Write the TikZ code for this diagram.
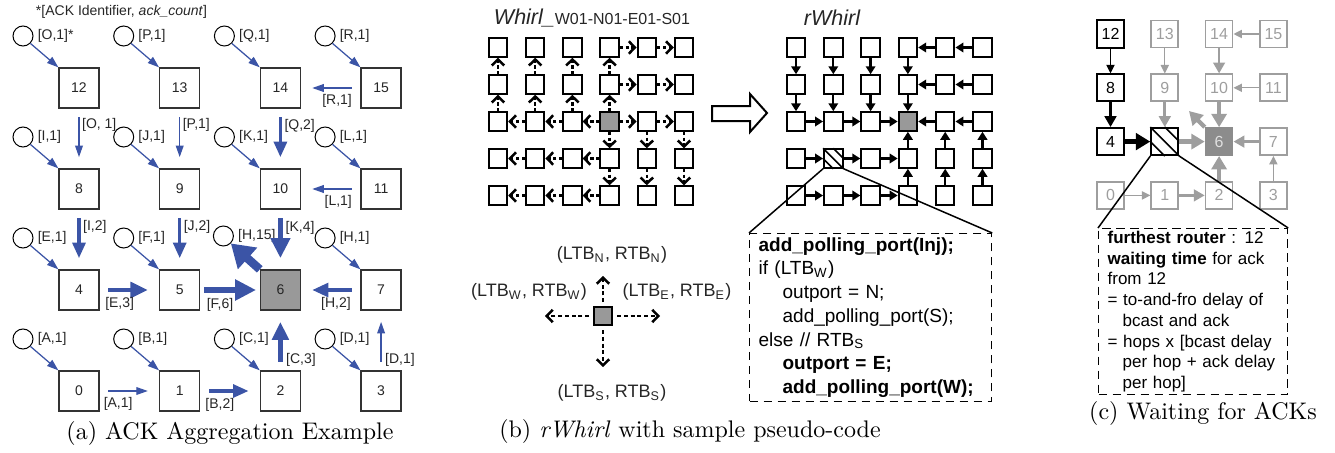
\documentclass[tikz,border=0pt]{standalone}
\usepackage{fontspec}
\setsansfont{Liberation Sans}
\usetikzlibrary{positioning,arrows.meta}

\definecolor{ackblue}{RGB}{59,84,166}
\definecolor{boxgray}{RGB}{153,153,153}
\definecolor{fadegray}{RGB}{158,158,158}
\definecolor{darkfill}{RGB}{140,140,140}

\tikzset{
  % ack aggregation mesh
  rtr/.style={draw=black!80, line width=0.5pt, minimum size=16pt, inner sep=0pt,
    font=\sffamily\fontsize{5.6}{6}\selectfont, text=black!85},
  src/.style={draw, circle, line width=0.4pt, minimum size=8pt, inner sep=0pt},
  lbl/.style={font=\sffamily\fontsize{5.6}{6.5}\selectfont, text=black!85, inner sep=1pt},
  ack/.style={draw=ackblue, line width=#1, -{Triangle[length=3.6pt 2 0, width=1.8pt 2.6 0]}},
  ack/.default=0.5pt,
  hop/.style={ack=#1, shorten <=3.5pt, shorten >=4.5pt},
  hop/.default=0.5pt,
  tagdown/.style={lbl, at start, anchor=north west, yshift=-2.5pt},
  tagup/.style={lbl, at start, anchor=west, xshift=0.4pt, yshift=4pt},
  tagleft/.style={lbl, at start, anchor=north east, xshift=-2.2pt, yshift=-1.4pt},
  tagright/.style={lbl, at start, anchor=north west, xshift=0.4pt, yshift=-1.2pt},
  % whirl / rwhirl trees
  cell/.style={draw, line width=0.8pt, minimum size=7.4pt, inner sep=0pt},
  wdash/.style={line width=0.9pt, dash pattern=on 1.3pt off 1pt,
    -{Straight Barb[length=2.4pt, width=5pt, line width=1pt]}},
  rsolid/.style={line width=0.9pt, -{Triangle[length=3.2pt, width=3.8pt]}},
  dirlbl/.style={font=\sffamily\fontsize{7.2}{8}\selectfont, text=black!85, inner sep=1pt},
  code/.style={draw, dash pattern=on 3.4pt off 2.2pt, line width=0.5pt, align=left,
    inner xsep=3.6pt, inner ysep=1.5pt, font=\sffamily\fontsize{7.6}{9.5}\selectfont},
  % waiting for acks
  cfade/.style={draw=fadegray, text=fadegray, line width=0.7pt, minimum size=10.8pt,
    inner sep=0pt, font=\sffamily\fontsize{6.4}{7}\selectfont},
  cdark/.style={cfade, draw=black, text=black, line width=0.8pt},
  cfill/.style={cfade, draw=darkfill, fill=darkfill, text=black!12},
  cack/.style={line width=#1, -{Triangle[length=2.6pt 1.6 0, width=2.2pt 2.2 0]}},
  note/.style={draw, dash pattern=on 3.4pt off 2.2pt, line width=0.5pt, align=left,
    inner xsep=3.6pt, inner ysep=1pt, font=\sffamily\fontsize{6.8}{8.3}\selectfont},
  subcap/.style={font=\fontsize{9.6}{11}\selectfont, inner sep=0pt}
}

\begin{document}
\begin{tikzpicture}[x=0.4pt, y=-0.4pt]
  \useasboundingbox (0,0) rectangle (1335,453);

  % Define nodes
  \node[lbl, anchor=west] (key) at (33,12) {*[ACK Identifier, \textit{ack\_count}]};
  \foreach \n in {0,...,15}{
    \ifnum\n=6 \def\fc{boxgray}\else\def\fc{white}\fi
    \node[rtr, fill=\fc] (r\n) at ({79+100.7*mod(\n,4)}, {391-101*int(\n/4)}) {\n};
  }
  \foreach \n/\id in {0/A,1/B,2/C,3/D,4/E,5/F,7/H,8/I,9/J,10/K,11/L,12/O,13/P,14/Q,15/R}{
    \node[src] (s\n) at ([shift={(-56,-52)}]r\n.center) {};
    \node[lbl, right=0.5pt of s\n] (t\n) {[\id,1]\ifnum\n=12 *\fi};
    \draw[ack] (s\n.south east) -- (r\n.north west);
  }
  \node[src] (s6) at ([shift={(-57,-54)}]r6.center) {};
  \node[lbl, right=0.5pt of s6] (t6) {[H,15]};

  % Connect nodes
  \draw[ack=3.4pt, -{Triangle[length=9pt, width=11pt]}] (r6.north west) -- (s6.south east);
  \draw[hop] (r15) -- node[tagleft] {[R,1]} (r14);
  \draw[hop] (r11) -- node[tagleft] {[L,1]} (r10);
  \draw[hop=1.4pt] (r7) -- node[tagleft] {[H,2]} (r6);
  \draw[hop] (r12) -- node[tagdown] {[O, 1]} (r8);
  \draw[hop] (r13) -- node[tagdown] {[P,1]} (r9);
  \draw[hop=1.3pt] (r14) -- node[tagdown] {[Q,2]} (r10);
  \draw[hop=1.3pt] (r8) -- node[tagdown] {[I,2]} (r4);
  \draw[hop=1.3pt] (r9) -- node[tagdown] {[J,2]} (r5);
  \draw[hop=2.2pt] (r10) -- node[tagdown] {[K,4]} (r6);
  \draw[hop=1.7pt] (r4) -- node[tagright] {[E,3]} (r5);
  \draw[hop=2.4pt, shorten <=1.5pt, shorten >=1.5pt] (r5) -- node[tagright] {[F,6]} (r6);
  \draw[hop] (r0) -- node[tagright] {[A,1]} (r1);
  \draw[hop=1.3pt] (r1) -- node[tagright] {[B,2]} (r2);
  \draw[hop=1.8pt] (r2) -- node[tagup] {[C,3]} (r6);
  \draw[hop] (r3) -- node[tagup] {[D,1]} (r7);
  \node[subcap] (capa) at (230,433) {(a) ACK Aggregation Example};

  % Whirl and rWhirl
  \node[font=\sffamily, text=black!85, inner sep=0pt] (whirlT) at (592,18)
    {{\fontsize{8.6}{9}\selectfont\itshape Whirl\_}{\fontsize{6.4}{7}\selectfont W01-N01-E01-S01}};
  \node[font=\sffamily\fontsize{8.6}{9}\selectfont\itshape, text=black!85, inner sep=0pt] (rwhirlT) at (832,18) {rWhirl};
  \foreach \i in {0,...,5}
    \foreach \j in {0,...,4}{
      \ifnum\i\j=32 \def\fc{boxgray}\else\def\fc{white}\fi
      \node[cell, fill=\fc] (wl\i\j) at (498+37.2*\i, 47.5+37*\j) {};
      \node[cell, fill=\fc] (rw\i\j) at (796+37.3*\i, 47.5+37*\j) {};
    }
  \draw[line width=0.6pt] (rw13.north west) -- (rw13.south east)
    (rw13.north) -- (rw13.east) (rw13.west) -- (rw13.south);
  \foreach \i in {0,...,3}{
    \draw[wdash] (wl\i1) -- (wl\i0);
    \draw[wdash] (wl\i2) -- (wl\i1);
    \draw[rsolid] (rw\i0) -- (rw\i1);
    \draw[rsolid] (rw\i1) -- (rw\i2);
  }
  \foreach \j in {0,1,2}{
    \draw[wdash] (wl3\j) -- (wl4\j);
    \draw[wdash] (wl4\j) -- (wl5\j);
    \draw[rsolid] (rw5\j) -- (rw4\j);
    \draw[rsolid] (rw4\j) -- (rw3\j);
  }
  \foreach \j in {2,3,4}
    \foreach \i/\k in {3/2,2/1,1/0}{
      \draw[wdash] (wl\i\j) -- (wl\k\j);
      \draw[rsolid] (rw\k\j) -- (rw\i\j);
    }
  \foreach \i in {3,4,5}{
    \draw[wdash] (wl\i2) -- (wl\i3);
    \draw[wdash] (wl\i3) -- (wl\i4);
    \draw[rsolid] (rw\i4) -- (rw\i3);
    \draw[rsolid] (rw\i3) -- (rw\i2);
  }
  % hollow arrow between the two trees
  \draw[line width=0.8pt, fill=white] (712,106) -- (750,106) -- (750,94) -- (767,113)
    -- (750,132) -- (750,121) -- (712,121) -- cycle;

  % turn-back directions
  \node[cell, fill=boxgray] (dir) at (603,316) {};
  \coordinate (dirN) at (603,276);
  \coordinate (dirS) at (603,367);
  \coordinate (dirW) at (545,316);
  \coordinate (dirE) at (660,316);
  \foreach \d in {N,S,W,E}
    \draw[wdash, dash pattern=on 1.6pt off 1.1pt, shorten <=1.5pt] (dir) -- (dir\d);
  \node[dirlbl] (tagN) at (612,255) {(LTB\textsubscript{N}, RTB\textsubscript{N})};
  \node[dirlbl] (tagW) at (529,292) {(LTB\textsubscript{W}, RTB\textsubscript{W})};
  \node[dirlbl] (tagE) at (677,292) {(LTB\textsubscript{E}, RTB\textsubscript{E})};
  \node[dirlbl] (tagS) at (612,393) {(LTB\textsubscript{S}, RTB\textsubscript{S})};

  \node[code, text width=89.6pt, minimum height=66.8pt, anchor=north west] (pcode) at (749,233) {%
    \textbf{add\_polling\_port(Inj);}\\
    if (LTB\textsubscript{W})\\
    \hspace*{9.6pt}outport = N;\\
    \hspace*{9.6pt}add\_polling\_port(S);\\
    else // RTB\textsubscript{S}\\
    \hspace*{9.6pt}\textbf{outport = E;}\\
    \hspace*{9.6pt}\textbf{add\_polling\_port(W);}};
  \draw[line width=0.6pt] (rw13.south west) -- (pcode.north west);
  \draw[line width=0.6pt] (rw13.south east) -- (pcode.north east);
  \node[subcap] (capb) at (690,431) {(b) \textit{rWhirl} with sample pseudo-code};

  % Waiting for ACKs
  \foreach \n/\st in {0/cfade,1/cfade,2/cfade,3/cfade,4/cdark,5/cdark,6/cfill,7/cfade,
      8/cdark,9/cfade,10/cfade,11/cfade,12/cdark,13/cfade,14/cfade,15/cfade}
    \node[\st] (c\n) at ({1110.5+54.3*mod(\n,4)}, {195.4-53.8*int(\n/4)}) {\ifnum\n=5 \else\n\fi};
  \draw[line width=0.6pt] (c5.north west) -- (c5.south east)
    (c5.north) -- (c5.east) (c5.west) -- (c5.south);
  \foreach \a/\b/\w/\c in {12/8/0.5pt/black, 8/4/1.1pt/black, 4/5/2pt/black,
      13/9/0.5pt/fadegray, 9/5/1.1pt/fadegray, 14/10/1.1pt/fadegray, 15/14/0.5pt/fadegray,
      11/10/0.5pt/fadegray, 10/6/1.7pt/fadegray, 5/6/1.7pt/fadegray, 7/6/1.1pt/fadegray,
      0/1/0.5pt/fadegray, 1/2/1.1pt/fadegray, 2/6/1.7pt/fadegray, 3/7/0.5pt/fadegray}
    \draw[cack=\w, draw=\c] (c\a) -- (c\b);
  \coordinate (cH) at (1189,111);
  \draw[cack=1.7pt, draw=fadegray] (c6.north west) -- (cH);

  \node[note, text width=68.4pt, minimum height=64.8pt, anchor=north west] (wait) at (1098,228) {%
    \textbf{furthest router} : 12\\
    \textbf{waiting time} for ack\\
    from 12\\
    = to-and-fro delay of\\
    \hspace*{6pt}bcast and ack\\
    = hops x [bcast delay\\
    \hspace*{6pt}per hop + ack delay\\
    \hspace*{6pt}per hop]};
  \draw[line width=0.6pt] (c5.south west) -- (wait.north west);
  \draw[line width=0.6pt] (c5.south east) -- (wait.north east);
  \node[subcap] (capc) at (1203,413) {(c) Waiting for ACKs};
\end{tikzpicture}
\end{document}
